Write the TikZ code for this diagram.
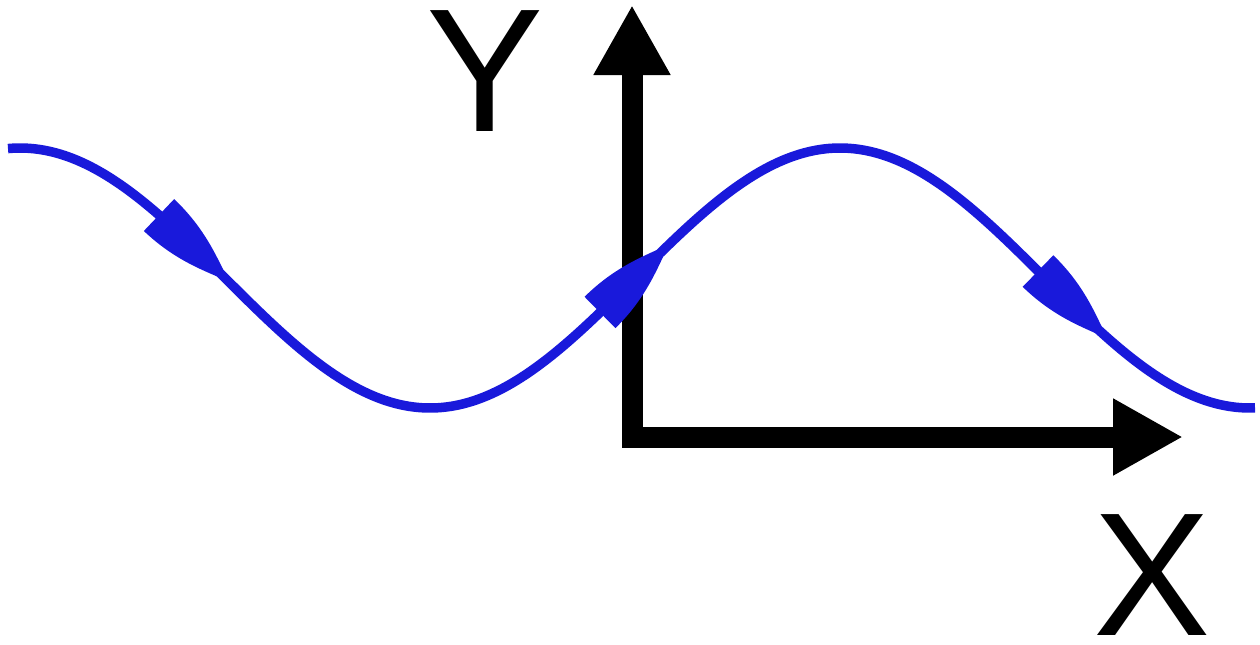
\documentclass[tikz,border=0pt]{standalone}
\usepackage{fontspec}
\setmainfont{Liberation Sans}
\usetikzlibrary{arrows.meta}

\definecolor{waveBlue}{rgb}{0.1,0.1,0.86}

\begin{document}
\begin{tikzpicture}[
        x=0.2mm, y=-0.2mm,
        axisLine/.style={black, line width=4.2mm, line join=miter,
            {Triangle[length=14mm,width=14.4mm]}-{Triangle[length=14mm,width=14.4mm]}},
        waveLine/.style={waveBlue, line width=1.9mm},
        flowCone/.style={fill=waveBlue},
        axisLabel/.style={inner sep=0pt, font=\fontsize{100}{100}\selectfont}
    ]
        \useasboundingbox (0,0) rectangle (1260,644);

        % Axes, one path so the corner is mitred
        \coordinate (Ytip) at (632,5);
        \coordinate (O) at (632,437);
        \coordinate (Xtip) at (1183,437);
        \draw[axisLine] (Ytip) -- (O) -- (Xtip);

        \node[axisLabel] (ylabel) at (485,71) {Y};
        \node[axisLabel] (xlabel) at (1152,575) {X};

        % The wave, drawn over the axes (period 820 px)
        \draw[waveLine] plot[domain=8:1255, samples=200, smooth]
            (\x, {278-130*cos(0.43902*(\x-20))});

        % Cones along the wave, base at \bx, tip back on the wave 60 px further
        \foreach \bx in {159,600,1038} {
            \pgfmathsetmacro\by{278-130*cos(0.43902*(\bx-20))}
            \pgfmathsetmacro\ey{278-130*cos(0.43902*(\bx+40))}
            \pgfmathsetmacro\ang{atan2(\ey-\by,60)}
            \begin{scope}[shift={(\bx,\by)}, rotate=-\ang]
                \fill[flowCone] (0,-22) -- (0,22) .. controls (38,22) and (64,12) .. (84,4.7)
                    -- (84,-4.7) .. controls (64,-12) and (38,-22) .. (0,-22) -- cycle;
            \end{scope}
        }

    \end{tikzpicture}
\end{document}
